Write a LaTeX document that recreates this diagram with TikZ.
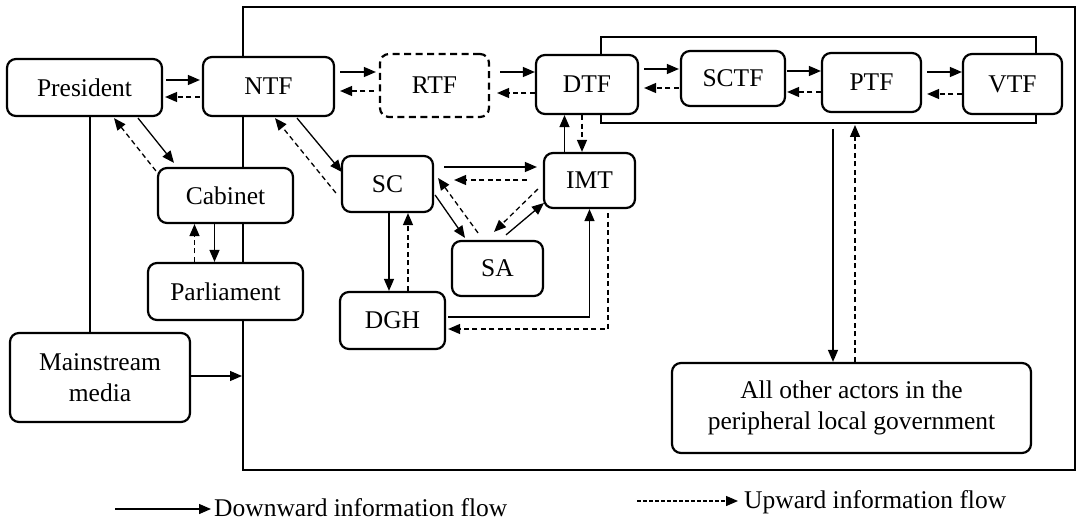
\documentclass[tikz,border=0pt]{standalone}
\usepackage{fontspec}
\setmainfont{Liberation Serif}
\usetikzlibrary{arrows.meta,calc}
\begin{document}
\begin{tikzpicture}[x=1pt,y=-1pt,
  box/.style={draw, line width=2.2pt, rounded corners=9pt, fill=white, align=center, inner sep=0pt, font=\fontsize{25.5}{31}\selectfont},
  frame/.style={draw, line width=2pt, inner sep=0pt},
  dn/.style={line width=1.3pt, -{Triangle[length=12pt,width=10pt]}},
  up/.style={dn, dash pattern=on 5pt off 3.5pt},
  legtext/.style={anchor=base west, inner sep=0pt, font=\fontsize{25.5}{31}\selectfont}
  ]
\useasboundingbox (0,0) rectangle (1078,521);
% frames
\node[frame, minimum width=832pt, minimum height=463pt] (gov) at (659,238.5) {};
\node[frame, minimum width=435pt, minimum height=86pt] (grp) at (818.5,80) {};
% boxes
\node[box, minimum width=155pt, minimum height=57pt] (pres) at (84.5,87.5) {President};
\node[box, minimum width=131pt, minimum height=59pt] (ntf) at (268.5,86.5) {NTF};
\node[box, dash pattern=on 7pt off 4.5pt, minimum width=109pt, minimum height=63pt] (rtf) at (434.5,85.5) {RTF};
\node[box, minimum width=102pt, minimum height=59pt] (dtf) at (587,84.5) {DTF};
\node[box, minimum width=104pt, minimum height=55pt] (sctf) at (733,78.5) {SCTF};
\node[box, minimum width=99pt, minimum height=59pt] (ptf) at (871.5,82.5) {PTF};
\node[box, minimum width=99pt, minimum height=60pt] (vtf) at (1012.5,84) {VTF};
\node[box, minimum width=135pt, minimum height=55pt] (cab) at (225.5,195.5) {Cabinet};
\node[box, minimum width=155pt, minimum height=57pt] (parl) at (225.5,291.5) {Parliament};
\node[box, minimum width=180pt, minimum height=89pt] (mm) at (100,377.5) {Mainstream\\media};
\node[box, minimum width=91pt, minimum height=56pt] (sc) at (387.5,184) {SC};
\node[box, minimum width=91pt, minimum height=55pt] (imt) at (589.5,180.5) {IMT};
\node[box, minimum width=91pt, minimum height=55pt] (sa) at (497.5,268.5) {SA};
\node[box, minimum width=105pt, minimum height=57pt] (dgh) at (392.5,320.5) {DGH};
\node[box, minimum width=359pt, minimum height=90pt] (oth) at (851.5,408) {All other actors in the\\peripheral local government};
% top row
\draw[dn, shorten <=3pt, shorten >=2pt] (pres.east |- 0,80) -- (ntf.west |- 0,80);
\draw[up, shorten <=2pt, shorten >=2pt] (ntf.west |- 0,97) -- (pres.east |- 0,97);
\draw[dn, shorten <=5pt, shorten >=3pt] (ntf.east |- 0,72) -- (rtf.west |- 0,72);
\draw[up, shorten <=5pt, shorten >=5pt] (rtf.west |- 0,91) -- (ntf.east |- 0,91);
\draw[dn, shorten <=10pt] (rtf.east |- 0,72) -- (dtf.west |- 0,72);
\draw[up, shorten >=7pt] (dtf.west |- 0,93) -- (rtf.east |- 0,93);
\draw[dn, shorten <=5pt, shorten >=1pt] (dtf.east |- 0,69) -- (sctf.west |- 0,69);
\draw[up, shorten <=1pt, shorten >=5pt] (sctf.west |- 0,88) -- (dtf.east |- 0,88);
\draw[dn, shorten <=1pt] (sctf.east |- 0,71) -- (ptf.west |- 0,71);
\draw[up, shorten >=1pt] (ptf.west |- 0,92) -- (sctf.east |- 0,92);
\draw[dn, shorten <=5pt] (ptf.east |- 0,72) -- (vtf.west |- 0,72);
\draw[up, shorten >=5pt] (vtf.west |- 0,94) -- (ptf.east |- 0,94);
% left side
\draw[line width=1.3pt] (pres.south -| 90,0) -- (mm.north -| 90,0);
\draw[dn] ($(pres.south)+(53.5,1)$) -- ($(cab.north)+(-51.5,-4)$);
\draw[up] ($(cab.north west)+(-1,4)$) -- ($(pres.south)+(29.5,1)$);
\draw[dn] (cab.south -| 214.5,0) -- (parl.north -| 214.5,0);
\draw[up] (parl.north -| 194.5,0) -- (cab.south -| 194.5,0);
\draw[dn] (mm.east |- 0,376) -- (gov.west |- 0,376);
% centre
\draw[dn] ($(ntf.south)+(28.5,1)$) -- ($(sc.west)+(1,-12)$);
\draw[up] ($(sc.west)+(-5,9)$) -- ($(ntf.south)+(6.5,1)$);
\draw[dn, shorten <=10pt, shorten >=6pt] (sc.east |- 0,167) -- (imt.west |- 0,167);
\draw[up, shorten <=16pt, shorten >=20pt] (imt.west |- 0,180) -- (sc.east |- 0,180);
\draw[dn] ($(sc.east)+(1,11)$) -- ($(sa.north)+(-32.5,-2)$);
\draw[up] ($(sa.north)+(-19.5,-7)$) -- ($(sc.east)+(4,-6)$);
\draw[up] ($(imt.west)+(-5,8.5)$) -- ($(sa.north)+(-3.5,-8)$);
\draw[dn] ($(sa.north)+(8.5,-5)$) -- ($(imt.west)+(1,22.5)$);
\draw[dn] (sc.south -| 389,0) -- (dgh.north -| 389,0);
\draw[up] (dgh.north -| 408,0) -- (sc.south -| 408,0);
\draw[dn, shorten <=2pt] (dgh.east |- 0,317) -| (imt.south);
\draw[up, shorten <=4pt, shorten >=2pt] (imt.south -| 608,0) |- (dgh.east |- 0,329);
\draw[dn] (imt.north -| 564.5,0) -- (dtf.south -| 564.5,0);
\draw[up] (dtf.south -| 582,0) -- (imt.north -| 582,0);
% right
\draw[dn, shorten <=5pt] (grp.south -| 833,0) -- (oth.north -| 833,0);
\draw[up, shorten >=1pt] (oth.north -| 855,0) -- (grp.south -| 855,0);
% legend
\coordinate (l1a) at (115,509);
\coordinate (l1b) at (211,509);
\draw[dn] (l1a) -- (l1b);
\node[legtext] (l1t) at (214,516.5) {Downward information flow};
\coordinate (l2a) at (637,501);
\coordinate (l2b) at (738,501);
\draw[dn, dash pattern=on 3.5pt off 2.5pt] (l2a) -- (l2b);
\node[legtext] (l2t) at (744,508.5) {Upward information flow};
\end{tikzpicture}
\end{document}
